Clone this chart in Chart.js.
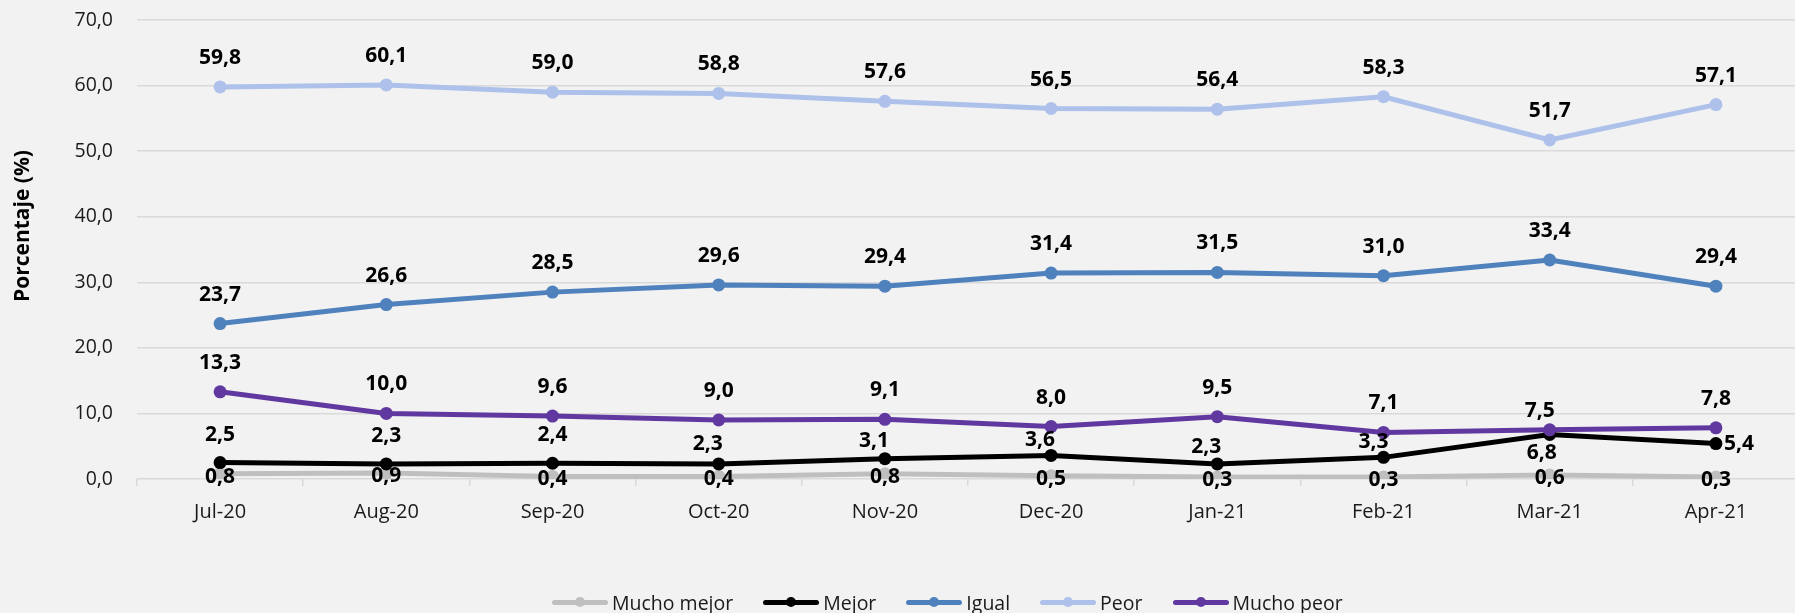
<!DOCTYPE html>
<html><head><meta charset="utf-8">
<script src="https://cdn.jsdelivr.net/npm/chart.js@4.4.1/dist/chart.umd.min.js"></script>
<style>
html,body{margin:0;padding:0;background:#f2f2f2;overflow:hidden;width:1795px;height:613px;}
#wrap{position:relative;width:1805px;height:613px;}
canvas{position:absolute;left:0;top:0;}
#legend{position:absolute;left:552px;top:589px;height:26px;display:flex;align-items:center;font-family:'Open Sans',sans-serif;font-size:19.5px;color:#1a1a1a;white-space:nowrap;}
.item{display:flex;align-items:center;margin-right:30px;}
.sw{position:relative;width:56px;height:5px;margin-right:4px;border-radius:2.5px;}
.sw i{position:absolute;left:23px;top:-2.5px;width:10px;height:10px;border-radius:50%;}
</style></head>
<body><div id="wrap"><canvas id="c" width="1805" height="613"></canvas><div id="legend"></div></div>
<script>
// ---- data ----
const categories = ["Jul-20","Aug-20","Sep-20","Oct-20","Nov-20","Dec-20","Jan-21","Feb-21","Mar-21","Apr-21"];
const seriesNames = ["Mucho mejor","Mejor","Igual","Peor","Mucho peor"];
const muchoMejor = [0.8, 0.9, 0.4, 0.4, 0.8, 0.5, 0.3, 0.3, 0.6, 0.3];
const mejor      = [2.5, 2.3, 2.4, 2.3, 3.1, 3.6, 2.3, 3.3, 6.8, 5.4];
const igual      = [23.7, 26.6, 28.5, 29.6, 29.4, 31.4, 31.5, 31.0, 33.4, 29.4];
const peor       = [59.8, 60.1, 59.0, 58.8, 57.6, 56.5, 56.4, 58.3, 51.7, 57.1];
const muchoPeor  = [13.3, 10.0, 9.6, 9.0, 9.1, 8.0, 9.5, 7.1, 7.5, 7.8];
const yTicks = [0,10,20,30,40,50,60,70];
const yTitle = "Porcentaje (%)";

// ---- styles ----
const seriesColors = ["#bfbfbf","#000000","#4f81bd","#adc1ea","#6038a0"];
// label placement (pixel offsets from point) per series: default dy, plus per-point overrides [dx,dy]
const labelPlacement = [
  {dy: 3},
  {dy: -28, special: {3:[-11,-20],4:[-11,-18],5:[-11,-15],6:[-11,-17],7:[-10,-15],8:[-8,19],9:[23,0]}},
  {dy: -29},
  {dy: -29},
  {dy: -29, special: {8:[-10,-19]}}
];
const plotTop = 20, plotRight = 1799;

const allSeries = [muchoMejor, mejor, igual, peor, muchoPeor];
const fmt = v => v.toFixed(1).replace('.', ',');

const datasets = allSeries.map((d,i)=>({
  label: seriesNames[i],
  data: d,
  borderColor: seriesColors[i],
  backgroundColor: seriesColors[i],
  pointBackgroundColor: seriesColors[i],
  pointBorderColor: seriesColors[i],
  borderWidth: 5,
  pointRadius: 6.5,
  pointBorderWidth: 0,
  tension: 0,
  order: allSeries.length - i
}));

const labelPlugin = {
  id: 'valueLabels',
  afterDatasetsDraw(chart){
    const ctx = chart.ctx;
    ctx.save();
    ctx.font = 'bold 21px "Open Sans"';
    ctx.fillStyle = '#000';
    ctx.textAlign = 'center';
    ctx.textBaseline = 'middle';
    chart.data.datasets.forEach((ds,i)=>{
      const meta = chart.getDatasetMeta(i);
      const pl = labelPlacement[i];
      meta.data.forEach((pt,j)=>{
        const o = (pl.special && pl.special[j]) || [0, pl.dy];
        ctx.fillText(fmt(ds.data[j]), pt.x + o[0], pt.y + o[1]);
      });
    });
    ctx.restore();
  }
};

const titlePlugin = {
  id: 'yTitle',
  afterDraw(chart){
    const ctx = chart.ctx;
    ctx.save();
    ctx.translate(23, 226);
    ctx.rotate(-Math.PI/2);
    ctx.font = 'bold 21px "Open Sans"';
    ctx.fillStyle = '#000';
    ctx.textAlign = 'center';
    ctx.textBaseline = 'middle';
    ctx.fillText(yTitle, 0, 0);
    ctx.restore();
  }
};

const options = {
  responsive: false,
  animation: false,
  devicePixelRatio: 1,
  layout: { autoPadding: false, padding: { top: 20, right: 6, left: 0, bottom: 0 } },
  plugins: { legend: { display: false }, title: { display: false }, tooltip: { enabled: false } },
  scales: {
    x: {
      type: 'category',
      offset: true,
      afterFit: s => { s.height = 134; s.paddingLeft = 0; s.paddingRight = 0; },
      grid: { display: true, drawOnChartArea: false, drawTicks: true, tickLength: 7, color: '#d9d9d9', lineWidth: 1.5, offset: true },
      border: { display: false },
      ticks: { color: '#1a1a1a', font: { family: 'Open Sans', size: 20 }, padding: 14, maxRotation: 0, autoSkip: false }
    },
    y: {
      min: 0, max: 70,
      afterFit: s => { s.width = 137; s.paddingTop = 0; s.paddingBottom = 0; },
      afterBuildTicks: s => { s.ticks = yTicks.map(v => ({ value: v })); },
      grid: { color: '#d9d9d9', lineWidth: 1.5, drawTicks: false },
      border: { display: false },
      ticks: { color: '#1a1a1a', font: { family: 'Open Sans', size: 19.5 }, padding: 24, callback: v => fmt(v) }
    }
  }
};

const chart = new Chart(document.getElementById('c'), {
  type: 'line',
  data: { labels: categories, datasets },
  options: options,
  plugins: [labelPlugin, titlePlugin]
});
// align plot area to the reference frame if the layout drifted
for (let k = 0; k < 3; k++) {
  const dt = plotTop - chart.chartArea.top, dr = chart.chartArea.right - plotRight;
  if (Math.abs(dt) < 0.3 && Math.abs(dr) < 0.3) break;
  const cur = chart.config.options.layout.padding;
  chart.config.options.layout.padding = { top: cur.top + dt, right: cur.right + dr, left: 0, bottom: 0 };
  chart.update();
}

// HTML legend built from series
const lg = document.getElementById('legend');
seriesNames.forEach((n,i)=>{
  const it = document.createElement('div'); it.className = 'item';
  const sw = document.createElement('span'); sw.className = 'sw'; sw.style.background = seriesColors[i];
  const dot = document.createElement('i'); dot.style.background = seriesColors[i]; sw.appendChild(dot);
  const tx = document.createElement('span'); tx.textContent = n;
  it.appendChild(sw); it.appendChild(tx); lg.appendChild(it);
});
</script>
</body></html>
